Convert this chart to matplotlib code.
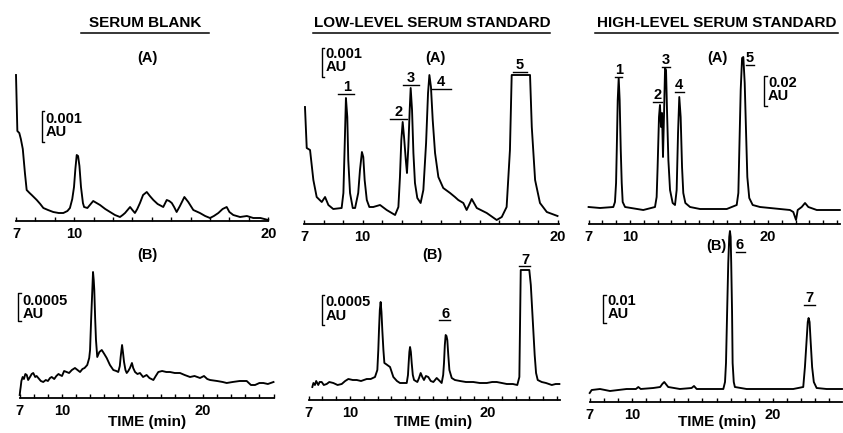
import matplotlib
matplotlib.use("Agg")
import matplotlib.pyplot as plt
import numpy as np

plt.rcParams['font.family'] = ['Liberation Sans', 'DejaVu Sans']
plt.rcParams['font.weight'] = 'bold'

# detector response (arbitrary units, height above baseline axis)
# serum blank, (A)
blank_a_time = [7.0, 7.07, 7.17, 7.25, 7.35, 7.46, 7.55, 7.7, 7.81, 8.07,
                8.25, 8.41, 8.65, 8.92, 9.2, 9.44, 9.65, 9.78, 9.9, 9.99,
                10.06, 10.13, 10.2, 10.27, 10.35, 10.45, 10.51, 10.68, 10.98, 11.33,
                11.6, 11.85, 12.1, 12.36, 12.5, 12.62, 12.75, 12.88, 13.0, 13.13,
                13.25, 13.39, 13.55, 13.74, 13.9, 14.08, 14.3, 14.59, 14.77, 14.9,
                15.03, 15.15, 15.28, 15.45, 15.68, 15.88, 16.14, 16.48, 16.75, 17.0,
                17.2, 17.43, 17.65, 17.86, 18.0, 18.2, 18.55, 18.9, 19.23, 19.6, 20.0]
blank_a_resp = [146, 90, 88, 82, 72, 48, 31, 28, 26, 21,
                17, 13, 11, 9, 8, 8, 10, 13, 22, 34,
                52, 66, 65, 55, 34, 18, 14, 13, 20, 16,
                12, 9, 6, 4, 6, 8, 11, 14, 11, 8,
                12, 18, 26, 29, 25, 21, 17, 14, 21, 20,
                18, 14, 9, 15, 24, 19, 11, 8, 5, 3,
                5, 8, 12, 14, 9, 6, 4, 5, 3, 3, 1]

# low-level serum standard, (A)
low_a_time = [7.05, 7.14, 7.31, 7.48, 7.65, 7.91, 8.08, 8.25, 8.5, 8.93,
              9.02, 9.09, 9.15, 9.22, 9.27, 9.36, 9.5, 9.62, 9.78, 9.87,
              9.97, 10.04, 10.11, 10.22, 10.35, 10.55, 10.9, 11.24, 11.67, 11.84,
              11.92, 11.99, 12.06, 12.13, 12.22, 12.28, 12.35, 12.42, 12.47, 12.54,
              12.61, 12.69, 12.81, 12.98, 13.12, 13.26, 13.36, 13.43, 13.51, 13.6,
              13.72, 13.89, 14.14, 14.49, 14.74, 14.91, 15.17, 15.34, 15.51, 15.6,
              15.86, 16.37, 16.88, 17.14, 17.39, 17.56, 17.65, 18.59, 18.68, 18.85,
              19.1, 19.45, 20.0]
low_a_resp = [117, 76, 74, 44, 27, 22, 27, 19, 15, 16,
              31, 81, 126, 107, 64, 31, 16, 16, 31, 54,
              72, 67, 44, 24, 17, 17, 19, 14, 9, 17,
              47, 84, 102, 87, 64, 51, 77, 114, 136, 114,
              71, 41, 26, 21, 34, 81, 131, 149, 137, 104,
              71, 47, 36, 31, 27, 24, 21, 14, 21, 25,
              16, 11, 4, 7, 17, 74, 149, 149, 97, 44,
              21, 12, 8]

# high-level serum standard, (A)
high_a_time = [7.0, 7.83, 8.79, 8.91, 8.99, 9.04, 9.11, 9.18, 9.25, 9.33,
               9.40, 9.47, 9.64, 10.96, 11.81, 11.93, 12.0, 12.1, 12.17, 12.25,
               12.32, 12.39, 12.46, 12.54, 12.61, 12.68, 12.78, 12.9, 13.09, 13.26,
               13.38, 13.48, 13.57, 13.67, 13.77, 13.86, 14.01, 14.35, 15.07, 17.01,
               17.73, 17.85, 17.92, 18.02, 18.12, 18.21, 18.31, 18.41, 18.5, 18.64,
               18.89, 19.42, 21.59, 21.83, 22.03, 22.15, 22.44, 22.68, 22.92, 23.53, 25.2]
high_a_resp = [17, 16, 17, 22, 41, 74, 124, 146, 124, 74,
               41, 22, 17, 14, 17, 27, 57, 107, 119, 97,
               111, 67, 107, 156, 154, 114, 64, 34, 21, 19,
               34, 91, 127, 107, 57, 31, 21, 17, 15, 15,
               19, 31, 74, 134, 166, 167, 141, 91, 47, 26,
               19, 17, 14, 12, 4, 14, 17, 21, 17, 14, 14]

# serum blank, (B)
blank_b_time = [7.0, 7.04, 7.07, 7.12, 7.21, 7.3, 7.4, 7.5, 7.6, 7.73,
                7.85, 7.96, 8.1, 8.2, 8.32, 8.5, 8.67, 8.85, 9.0, 9.15,
                9.27, 9.45, 9.6, 9.75, 9.86, 10.0, 10.15, 10.33, 10.5, 10.7,
                10.92, 11.1, 11.28, 11.45, 11.6, 11.79, 11.93, 11.99, 12.07, 12.13,
                12.2, 12.25, 12.29, 12.35, 12.41, 12.5, 12.65, 12.82, 13.0, 13.17,
                13.4, 13.64, 13.85, 13.99, 14.1, 14.16, 14.26, 14.33, 14.4, 14.5,
                14.59, 14.7, 14.82, 14.96, 15.05, 15.18, 15.35, 15.53, 15.75, 16.0,
                16.2, 16.48, 16.65, 16.83, 17.1, 17.4, 17.66, 18.0, 18.37, 18.7,
                19.08, 19.4, 19.79, 20.07, 20.3, 20.5, 21.0, 21.4, 21.68, 22.1,
                22.6, 23.1, 23.4, 23.69, 24.0, 24.28, 24.6, 25.0]
blank_b_resp = [3, 8, 11, 17, 21, 19, 24, 23, 18, 21,
                24, 25, 21, 22, 20, 17, 16, 18, 17, 20,
                21, 19, 22, 24, 23, 22, 27, 26, 25, 28,
                30, 28, 26, 29, 30, 33, 40, 48, 80, 101,
                126, 118, 108, 80, 58, 41, 46, 48, 44, 40,
                33, 28, 27, 26, 32, 41, 53, 45, 36, 28,
                25, 27, 30, 35, 30, 26, 24, 25, 21, 23,
                20, 18, 22, 26, 27, 26, 26, 25, 25, 23,
                21, 22, 20, 22, 19, 18, 17, 16, 15, 16,
                17, 17, 13, 13, 15, 15, 14, 16]

# low-level serum standard, (B)
low_b_time = [7.27, 7.35, 7.46, 7.55, 7.7, 7.8, 7.95, 8.1, 8.31, 8.5,
              8.79, 9.1, 9.4, 9.65, 9.88, 10.2, 10.49, 10.8, 11.21, 11.5,
              11.81, 11.98, 12.05, 12.1, 12.16, 12.22, 12.28, 12.34, 12.42, 12.49,
              12.6, 12.7, 12.9, 13.14, 13.4, 13.62, 13.9, 14.11, 14.2, 14.25,
              14.3, 14.35, 14.41, 14.47, 14.55, 14.64, 14.88, 15.0, 15.12, 15.24,
              15.36, 15.5, 15.67, 15.85, 16.04, 16.28, 16.5, 16.64, 16.75, 16.81,
              16.87, 16.93, 16.99, 17.05, 17.12, 17.2, 17.37, 17.6, 17.97, 18.4,
              18.93, 19.4, 19.91, 20.3, 20.63, 21.0, 21.36, 21.8, 22.12, 22.27,
              22.37, 22.99, 23.1, 23.2, 23.28, 23.38, 23.48, 23.6, 23.89, 24.2,
              24.62, 24.9, 25.17]
low_b_resp = [13, 17, 15, 19, 15, 18, 18, 15, 16, 18,
              17, 15, 16, 19, 21, 20, 20, 19, 21, 21,
              23, 30, 50, 70, 90, 98, 88, 70, 50, 37,
              36, 35, 33, 23, 19, 17, 17, 17, 25, 37,
              48, 53, 48, 37, 25, 20, 18, 22, 27, 23,
              20, 24, 23, 19, 18, 22, 19, 17, 25, 37,
              55, 65, 64, 60, 45, 30, 22, 20, 19, 18,
              18, 17, 17, 18, 18, 17, 16, 16, 15, 23,
              130, 130, 115, 90, 70, 45, 27, 20, 18, 17,
              15, 16, 16]

# high-level serum standard, (B)
high_b_time = [7.0, 7.14, 7.73, 8.44, 9.62, 10.28, 10.45, 10.62, 11.51, 12.0,
               12.15, 12.29, 12.4, 12.57, 13.4, 14.23, 14.4, 14.59, 15.53, 16.48,
               16.6, 16.67, 16.75, 16.83, 16.9, 16.95, 17.0, 17.04, 17.1, 17.14,
               17.22, 17.3, 18.13, 19.55, 21.44, 22.15, 22.27, 22.39, 22.47, 22.53,
               22.6, 22.67, 22.78, 22.9, 23.1, 23.81, 24.9]
high_b_resp = [9, 12, 13, 11, 13, 13, 15, 13, 14, 15,
               18, 20, 18, 15, 13, 14, 16, 13, 13, 13,
               20, 39, 90, 139, 165, 171, 165, 139, 90, 39,
               20, 15, 13, 13, 13, 15, 35, 62, 80, 84,
               80, 62, 35, 20, 14, 13, 13]

titles = ["SERUM BLANK", "LOW-LEVEL SERUM STANDARD", "HIGH-LEVEL SERUM STANDARD"]
scale_labels = ["0.001", "0.001", "0.02", "0.0005", "0.0005", "0.01"]
tick_labels = [7, 10, 20]

W, H = 843, 433
fig = plt.figure(figsize=(W / 100, H / 100), dpi=100)

# (time, response, xlim, left px, right px, baseline px)
panels = [
    (blank_a_time, blank_a_resp, (7, 20), 16, 268.2, 221),
    (low_a_time, low_a_resp, (7, 20.05), 304, 558.5, 224),
    (high_a_time, high_a_resp, (7, 25.2), 588.6, 839.8, 224),
    (blank_b_time, blank_b_resp, (7, 25), 19.7, 273.5, 398),
    (low_b_time, low_b_resp, (7, 25.2), 308.6, 559.8, 400),
    (high_b_time, high_b_resp, (7, 24.9), 589.7, 842, 402),
]
top = 185
for t, r, xl, x0, x1, yb in panels:
    ax = fig.add_axes([x0 / W, 1 - yb / H, (x1 - x0) / W, top / H])
    ax.plot(t, r, color='black', lw=1.35, clip_on=False, solid_joinstyle='round')
    ax.set_xlim(*xl)
    ax.set_ylim(0, top)
    ax.patch.set_visible(False)
    for s in ['left', 'right', 'top']:
        ax.spines[s].set_visible(False)
    ax.spines['bottom'].set_linewidth(1.3)
    ax.set_yticks([])
    ax.set_xticks(tick_labels)
    ax.set_xticks(np.arange(7, int(xl[1]) + 1), minor=True)
    ax.tick_params(axis='x', which='both', direction='in', length=3, width=1, pad=4, labelsize=10.5)

# overlay for text in pixel coordinates
ov = fig.add_axes([0, 0, 1, 1])
ov.set_xlim(0, W)
ov.set_ylim(H, 0)
ov.axis('off')

def txt(x, y, s, size=11, ha='center'):
    ov.text(x, y, s, fontsize=size, fontweight='bold', ha=ha, va='center')

def hline(x0, x1, y, lw=1.0):
    ov.plot([x0, x1], [y, y], color='black', lw=lw)

# column titles
for (cx, x0, x1), s in zip([(145, 81, 209), (432, 313, 550), (717, 595, 838)], titles):
    txt(cx, 23, s, size=11)
    hline(x0, x1, 33, lw=1.1)

for cx, y, s in [(147, 58, "(A)"), (435, 58, "(A)"), (717, 58, "(A)"),
                 (147, 255, "(B)"), (432, 255, "(B)"), (716, 246, "(B)")]:
    txt(cx, y, s, size=10.5)

# scale bars
for (bx, y0, y1, ty), s in zip([(41.7, 111, 142, 119), (321.7, 48, 77, 54), (764, 76, 106, 83),
                                (18.3, 293, 321, 301), (321.7, 295, 325, 302.5), (603.3, 295, 323, 301)],
                               scale_labels):
    ov.plot([bx + 2.5, bx, bx, bx + 2.5], [y0, y0, y1, y1], color='black', lw=1.0)
    txt(bx + 4, ty, s, size=10.5, ha='left')
    txt(bx + 4, ty + 13, "AU", size=10.5, ha='left')

# peak labels
for x, y, s, u0, u1 in [(347, 87, "1", 338, 354), (399, 112, "2", 390, 407), (411, 78, "3", 403, 419),
                        (441, 82, "4", 432, 451), (520, 65, "5", 513, 527),
                        (619, 70, "1", 615, 622), (658, 95, "2", 653, 662), (666, 60, "3", 662, 670),
                        (679, 85, "4", 675, 684), (750, 58, "5", 746, 754),
                        (446, 313.5, "6", 439, 450), (525, 259.5, "7", 519, 530),
                        (740, 245, "6", 736, 745), (809, 298.5, "7", 804, 815)]:
    txt(x, y, s, size=10.5)
    hline(u0, u1, y + 6.5)

for cx in [147, 433, 717]:
    txt(cx, 422, "TIME (min)", size=11)

fig.savefig("out.png", dpi=100)
